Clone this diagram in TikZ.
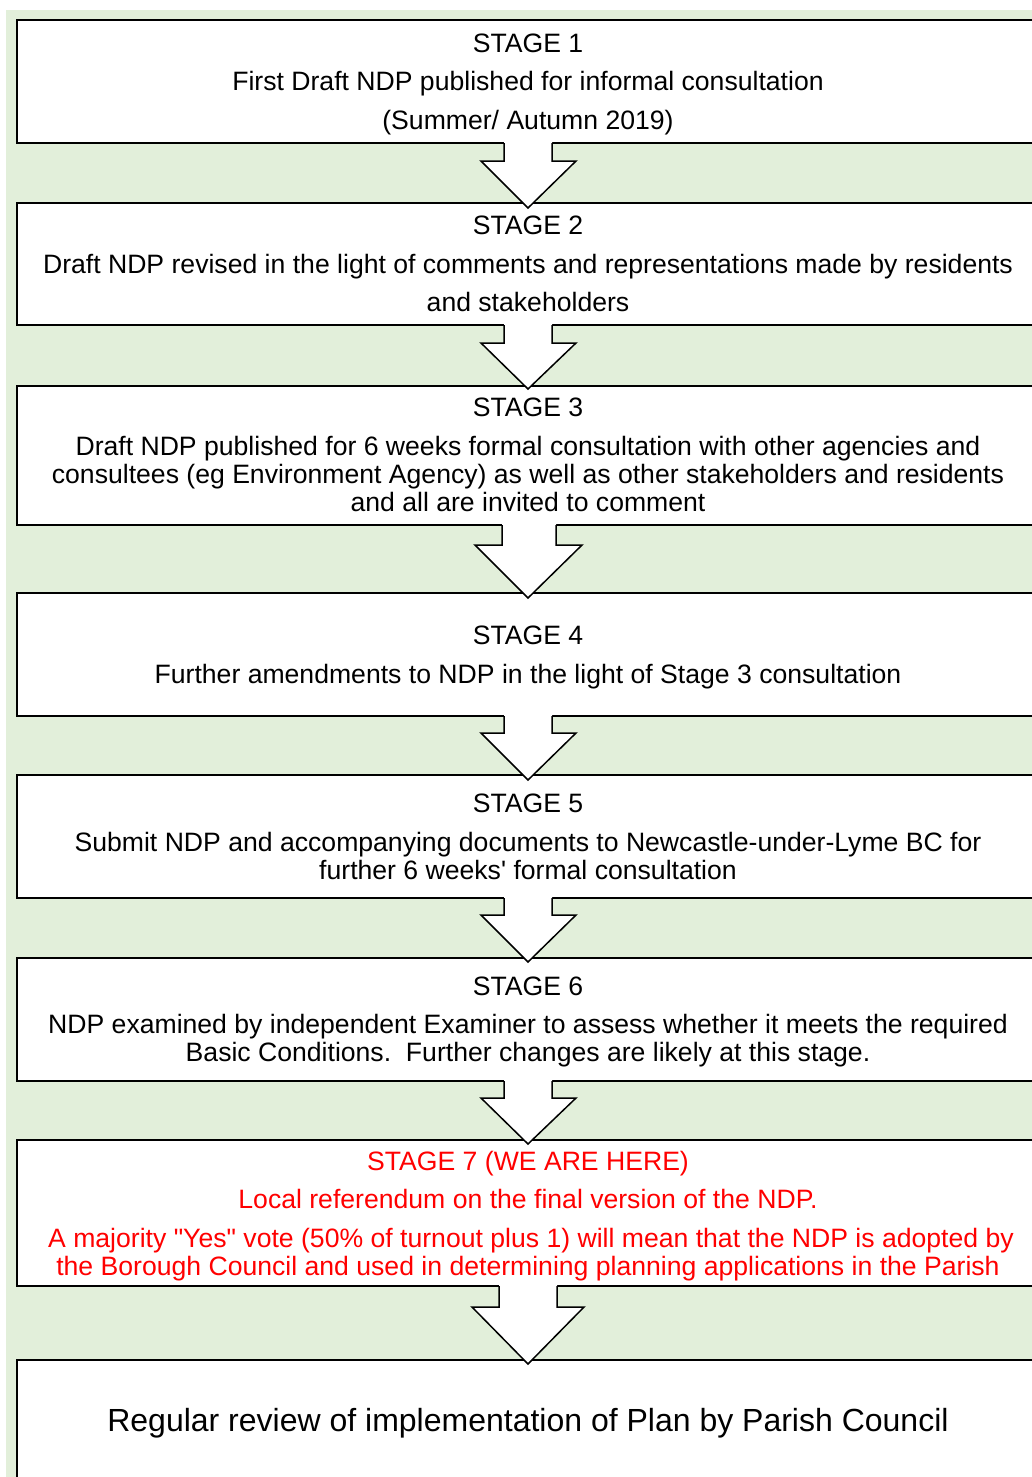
\documentclass[tikz,border=0pt]{standalone}
\usepackage{fontspec}
\setmainfont{Liberation Sans}[Ligatures=TeXOff]
\definecolor{bggreen}{RGB}{226,239,218}
\definecolor{ndpred}{RGB}{255,0,0}
\tikzset{
  box/.style={draw=black, line width=2pt, fill=white, rectangle, inner sep=0pt, outer sep=0pt},
  txt/.style={anchor=base, inner sep=0pt, font=\fontsize{26.6}{30}\selectfont},
  redtxt/.style={txt, text=ndpred},
  bigtxt/.style={anchor=base, inner sep=0pt, font=\fontsize{32}{36}\selectfont},
  blockarr/.style={draw=black, line width=1.5pt, line join=miter, fill=white}
}
% #1 top, #2 head top, #3 tip, #4 stem left, #5 stem right, #6 head left, #7 head right
\newcommand\ndparrow[7]{%
  \fill[white] (#4,#1-1.5) -- (#4,#2) -- (#6,#2) -- (528,#3) -- (#7,#2) -- (#5,#2) -- (#5,#1-1.5) -- cycle;
  \draw[blockarr, fill=none] (#4,#1) -- (#4,#2) -- (#6,#2) -- (528,#3) -- (#7,#2) -- (#5,#2) -- (#5,#1);
}
\begin{document}
\begin{tikzpicture}[x=1pt, y=-1pt]
\useasboundingbox (0,0) rectangle (1032,1477);
\clip (0,0) rectangle (1032,1477);
\fill[bggreen] (6,10) rectangle (1040,1490);

% boxes
\node[box, minimum width=1040pt, minimum height=123pt] (b1) at (537,81.5) {};
\node[box, minimum width=1040pt, minimum height=122pt] (b2) at (537,264) {};
\node[box, minimum width=1040pt, minimum height=139pt] (b3) at (537,455.5) {};
\node[box, minimum width=1040pt, minimum height=123pt] (b4) at (537,654.5) {};
\node[box, minimum width=1040pt, minimum height=123pt] (b5) at (537,836.5) {};
\node[box, minimum width=1040pt, minimum height=123pt] (b6) at (537,1019.5) {};
\node[box, minimum width=1040pt, minimum height=146pt] (b7) at (537,1213) {};
\node[box, minimum width=1040pt, minimum height=140pt] (b8) at (537,1430) {};

% block arrows
\ndparrow{143}{161}{208}{504}{552}{481}{576}
\ndparrow{325}{343}{389}{504}{552}{481}{576}
\ndparrow{525}{545}{598}{502}{556}{475}{582}
\ndparrow{716}{733}{780}{504}{552}{481}{576}
\ndparrow{898}{915}{962}{504}{552}{481}{576}
\ndparrow{1081}{1098}{1144}{504}{552}{481}{576}
\ndparrow{1286}{1307}{1364}{499}{557}{472}{584}

% texts
\node[txt] (t1a) at (528,52.5) {STAGE 1};
\node[txt] (t1b) at (528,91) {First Draft NDP published for informal consultation};
\node[txt] (t1c) at (528,129.5) {(Summer/ Autumn 2019)};

\node[txt] (t2a) at (528,234.5) {STAGE 2};
\node[txt] (t2b) at (528,273) {Draft NDP revised in the light of comments and representations made by residents};
\node[txt] (t2c) at (528,311.5) {and stakeholders};

\node[txt] (t3a) at (528,416.5) {STAGE 3};
\node[txt] (t3b) at (528,455) {Draft NDP published for 6 weeks formal consultation with other agencies and};
\node[txt] (t3c) at (528,483) {consultees (eg Environment Agency) as well as other stakeholders and residents};
\node[txt] (t3d) at (528,511) {and all are invited to comment};

\node[txt] (t4a) at (528,644.5) {STAGE 4};
\node[txt] (t4b) at (528,683) {Further amendments to NDP in the light of Stage 3 consultation};

\node[txt] (t5a) at (528,812.5) {STAGE 5};
\node[txt] (t5b) at (528,851) {Submit NDP and accompanying documents to Newcastle-under-Lyme BC for};
\node[txt] (t5c) at (528,879) {further 6 weeks' formal consultation};

\node[txt] (t6a) at (528,995.5) {STAGE 6};
\node[txt] (t6b) at (528,1033) {NDP examined by independent Examiner to assess whether it meets the required};
\node[txt] (t6c) at (528,1061) {Basic Conditions.\ \ Further changes are likely at this stage.};

\node[redtxt] (t7a) at (528,1170.5) {STAGE 7 (WE ARE HERE)};
\node[redtxt] (t7b) at (528,1208) {Local referendum on the final version of the NDP.};
\node[redtxt] (t7c) at (531,1247) {A majority "Yes" vote (50\% of turnout plus 1) will mean that the NDP is adopted by};
\node[redtxt] (t7d) at (528,1275) {the Borough Council and used in determining planning applications in the Parish};

\node[bigtxt] (t8a) at (528,1431.5) {Regular review of implementation of Plan by Parish Council};
\end{tikzpicture}
\end{document}
